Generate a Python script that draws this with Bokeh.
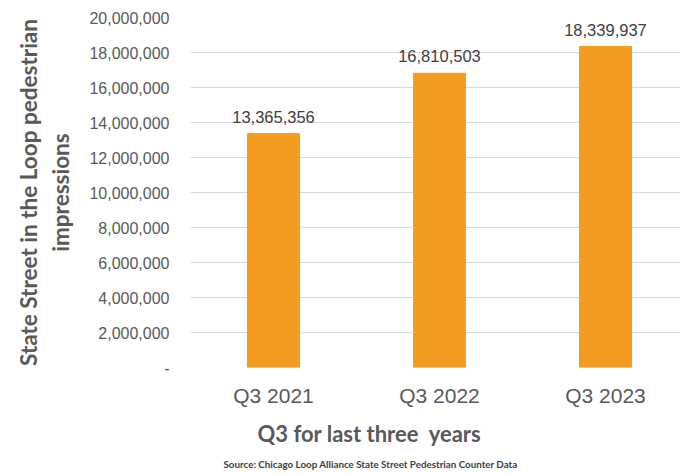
from bokeh.plotting import figure
from bokeh.models import Range1d, FixedTicker, NumeralTickFormatter, ColumnDataSource, LabelSet, Title
from bokeh.core.properties import value
from bokeh.embed import file_html
from bokeh.resources import INLINE

categories = ["Q3 2021", "Q3 2022", "Q3 2023"]
impressions = [13365356, 16810503, 18339937]
y_ticks = [0, 2000000, 4000000, 6000000, 8000000, 10000000, 12000000, 14000000, 16000000, 18000000, 20000000]

xs = [i + 0.5 for i in range(len(categories))]
labels = [f"{v:,}" for v in impressions]
src = ColumnDataSource(dict(x=xs, top=impressions, label=labels))

p = figure(width=680, height=474, output_backend="svg", toolbar_location=None,
           x_range=Range1d(0, 2.952), y_range=Range1d(0, 20000000),
           min_border_left=190, min_border_right=0, min_border_top=17, min_border_bottom=107)
p.outline_line_color = None
p.background_fill_color = "white"
p.border_fill_color = "white"

p.vbar(x="x", top="top", width=0.313, bottom=0, source=src, color="#F49C20")

p.add_layout(LabelSet(x="x", y="top", text="label", source=src, text_align="center",
                      text_baseline="bottom", y_offset=11, text_font_size="16.5px",
                      text_color="#404040", text_font=value("Liberation Sans")))

cond = "Lato"

# axes
p.yaxis.ticker = FixedTicker(ticks=y_ticks)
p.yaxis.formatter = NumeralTickFormatter(format="0,0")
p.yaxis.major_label_overrides = {0: "-"}
p.yaxis.axis_line_color = None
p.yaxis.major_tick_line_color = None
p.yaxis.minor_tick_line_color = None
p.yaxis.major_label_text_font = "Liberation Sans"
p.yaxis.major_label_text_font_size = "16px"
p.yaxis.major_label_text_color = "#595959"
p.yaxis.major_label_standoff = 15
p.yaxis.axis_label = "State Street in the Loop pedestrian\nimpressions"
p.yaxis.axis_label_text_font = cond
p.yaxis.axis_label_text_font_style = "bold"
p.yaxis.axis_label_text_font_size = "22.5px"
p.yaxis.axis_label_text_color = "#595959"
p.yaxis.axis_label_standoff = 12
p.yaxis.axis_label_text_align = "center"

p.xaxis.ticker = FixedTicker(ticks=xs)
p.xaxis.major_label_overrides = {x: c for x, c in zip(xs, categories)}
p.xaxis.axis_line_color = None
p.xaxis.major_tick_line_color = None
p.xaxis.minor_tick_line_color = None
p.xaxis.major_label_text_font = "Liberation Sans"
p.xaxis.major_label_text_font_size = "21px"
p.xaxis.major_label_text_color = "#595959"
p.xaxis.major_label_standoff = 10

p.xgrid.grid_line_color = None
p.ygrid.ticker = FixedTicker(ticks=y_ticks)
p.ygrid.grid_line_color = "#d9d9d9"
p.ygrid.grid_line_width = 1.2

p.add_layout(Title(text="Q3 for last three\u00a0 years", align="left", offset=67,
                   text_font=cond, text_font_style="bold", text_font_size="22px",
                   text_color="#595959", standoff=16), "below")
p.add_layout(Title(text="Source: Chicago Loop Alliance State Street Pedestrian Counter Data", align="left",
                   offset=33, text_font=cond, text_font_style="bold", text_font_size="9.8px",
                   text_color="#404040", standoff=3), "below")

open("out.html", "w").write(file_html(p, INLINE))
